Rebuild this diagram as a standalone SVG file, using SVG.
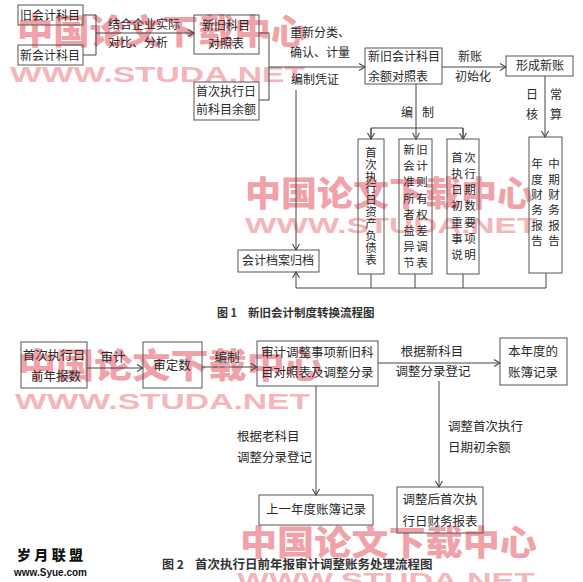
<svg xmlns="http://www.w3.org/2000/svg" width="583" height="582" viewBox="0 0 583 582">
<defs>
<marker id="ah" markerWidth="8" markerHeight="8" refX="7" refY="4" orient="auto" markerUnits="userSpaceOnUse">
<polyline points="1,0.5 7,4 1,7.5" fill="none" stroke="#444" stroke-width="1.1"/>
</marker>
<style>
.bx{fill:none;stroke:#555;stroke-width:1}
.ln{fill:none;stroke:#444;stroke-width:1}
.ar{fill:none;stroke:#444;stroke-width:1;marker-end:url(#ah)}
.t{font-family:"Noto Sans CJK SC","Liberation Sans",sans-serif;font-size:12px;fill:#2a2a2a}
.t2{font-family:"Noto Sans CJK SC","Liberation Sans",sans-serif;font-size:12.5px;fill:#2a2a2a}
.c{text-anchor:middle}
.v{font-family:"Noto Sans CJK SC","Liberation Sans",sans-serif;font-size:11.5px;fill:#2a2a2a;text-anchor:middle}
.cap{font-family:"Noto Sans CJK SC","Liberation Sans",sans-serif;font-weight:bold;fill:#333}
.wmc{font-family:"Noto Sans CJK SC",sans-serif;font-weight:900;font-size:34px;fill:#f0a2a8}
.wme{font-family:"Liberation Sans",sans-serif;font-weight:bold;font-size:22px;fill:#f4b6ba}
</style>
</defs>
<rect width="583" height="582" fill="#fff"/>

<g id="watermarks">
<text class="wmc" x="17" y="44" textLength="290" lengthAdjust="spacingAndGlyphs">中国论文下载中心</text>
<text class="wme" x="10" y="82" textLength="295" lengthAdjust="spacingAndGlyphs">WWW.STUDA.NET</text>
<text class="wmc" x="245" y="206" textLength="288" lengthAdjust="spacingAndGlyphs">中国论文下载中心</text>
<text class="wme" x="245" y="233" textLength="292" lengthAdjust="spacingAndGlyphs">WWW.STUDA.NET</text>
<text class="wmc" x="18" y="378" textLength="305" lengthAdjust="spacingAndGlyphs">中国论文下载中心</text>
<text class="wme" x="15" y="409" textLength="295" lengthAdjust="spacingAndGlyphs">WWW.STUDA.NET</text>
<text class="wmc" x="240" y="555" textLength="297" lengthAdjust="spacingAndGlyphs">中国论文下载中心</text>
<text class="wme" x="237" y="588" textLength="298" lengthAdjust="spacingAndGlyphs">WWW.STUDA.NET</text>
</g>

<g id="connectors">
<!-- figure 1 -->
<polyline class="ln" points="83,15 96,15 96,55 83,55"/>
<line class="ar" x1="96" y1="33" x2="194" y2="33"/>
<polyline class="ln" points="259,33 269,33 269,100 259,100"/>
<line class="ar" x1="269" y1="67" x2="365" y2="67"/>
<line class="ar" x1="442" y1="67" x2="506" y2="67"/>
<line class="ar" x1="416" y1="84" x2="416" y2="139"/>
<polyline class="ln" points="371,138 371,128 463,128 463,138"/>
<line class="ar" x1="371" y1="128" x2="371" y2="139"/>
<line class="ar" x1="463" y1="128" x2="463" y2="139"/>
<line class="ar" x1="545" y1="76" x2="545" y2="137"/>
<line class="ar" x1="296" y1="90" x2="296" y2="250"/>
<polyline class="ln" points="296,288 546,288 546,273"/>
<line class="ln" x1="371" y1="274" x2="371" y2="288"/>
<line class="ln" x1="415" y1="274" x2="415" y2="288"/>
<line class="ln" x1="463" y1="274" x2="463" y2="288"/>
<line class="ar" x1="296" y1="288" x2="296" y2="272"/>
<!-- figure 2 -->
<line class="ar" x1="87" y1="368" x2="143" y2="368"/>
<line class="ar" x1="202" y1="367" x2="257" y2="367"/>
<line class="ar" x1="378" y1="363" x2="500" y2="363"/>
<line class="ar" x1="316" y1="386" x2="316" y2="495"/>
<line class="ar" x1="439" y1="381" x2="439" y2="487"/>
</g>

<g id="labels">
<text class="t" x="108" y="29">结合企业实际</text>
<text class="t" x="108" y="47">对比、分析</text>
<text class="t" x="290" y="37">重新分类、</text>
<text class="t" x="290" y="57">确认、计量</text>
<text class="t" x="291" y="84">编制凭证</text>
<text class="t c" x="470" y="61">新账</text>
<text class="t c" x="473" y="81">初始化</text>
<text class="t c" x="407" y="117">编</text>
<text class="t c" x="428" y="117">制</text>
<text class="t c" x="532" y="99">日</text>
<text class="t c" x="556" y="99">常</text>
<text class="t c" x="532" y="119">核</text>
<text class="t c" x="556" y="119">算</text>
<text class="t2 c" x="113" y="362">审计</text>
<text class="t2 c" x="227" y="362">编制</text>
<text class="t2 c" x="432" y="356">根据新科目</text>
<text class="t2 c" x="433" y="376">调整分录登记</text>
<text class="t2" x="237" y="441">根据老科目</text>
<text class="t2" x="237" y="462">调整分录登记</text>
<text class="t2" x="448" y="431">调整首次执行</text>
<text class="t2" x="448" y="452">日期初余额</text>
</g>

<g id="n-old">
<rect class="bx" x="18" y="5" width="65" height="20"/>
<text class="t c" x="50" y="19.5">旧会计科目</text>
</g>
<g id="n-new">
<rect class="bx" x="18" y="45" width="65" height="20"/>
<text class="t c" x="50" y="59.5">新会计科目</text>
</g>
<g id="n-map">
<rect class="bx" x="194" y="15" width="65" height="39"/>
<text class="t c" x="226" y="30">新旧科目</text>
<text class="t c" x="226" y="48">对照表</text>
</g>
<g id="n-prebal">
<rect class="bx" x="194" y="82" width="65" height="38"/>
<text class="t c" x="226" y="96">首次执行日</text>
<text class="t c" x="226" y="114">前科目余额</text>
</g>
<g id="n-balmap">
<rect class="bx" x="365" y="48" width="77" height="36"/>
<text class="t" x="368" y="61">新旧会计科目</text>
<text class="t" x="368" y="81">余额对照表</text>
</g>
<g id="n-newbook">
<rect class="bx" x="506" y="56" width="67" height="20"/>
<text class="t c" x="540" y="70">形成新账</text>
</g>
<g id="n-archive">
<rect class="bx" x="238" y="250" width="81" height="22"/>
<text class="t c" x="278" y="265">会计档案归档</text>
</g>
<g id="n-bs">
<rect class="bx" x="358" y="139" width="26" height="135"/>
<text class="v" x="371" y="157">首</text>
<text class="v" x="371" y="169">次</text>
<text class="v" x="371" y="181">执</text>
<text class="v" x="371" y="192">行</text>
<text class="v" x="371" y="204">日</text>
<text class="v" x="371" y="216">资</text>
<text class="v" x="371" y="228">产</text>
<text class="v" x="371" y="240">负</text>
<text class="v" x="371" y="252">债</text>
<text class="v" x="371" y="264">表</text>
</g>
<g id="n-equity">
<rect class="bx" x="399" y="139" width="33" height="135"/>
<text class="v" x="409" y="154">新</text><text class="v" x="422" y="154">旧</text>
<text class="v" x="409" y="170">会</text><text class="v" x="422" y="170">计</text>
<text class="v" x="409" y="186">准</text><text class="v" x="422" y="186">则</text>
<text class="v" x="409" y="203">所</text><text class="v" x="422" y="203">有</text>
<text class="v" x="409" y="219">者</text><text class="v" x="422" y="219">权</text>
<text class="v" x="409" y="235">益</text><text class="v" x="422" y="235">差</text>
<text class="v" x="409" y="251">异</text><text class="v" x="422" y="251">调</text>
<text class="v" x="409" y="267">节</text><text class="v" x="422" y="267">表</text>
</g>
<g id="n-notes">
<rect class="bx" x="447" y="139" width="32" height="135"/>
<text class="v" x="457" y="162">首</text><text class="v" x="470" y="162">次</text>
<text class="v" x="457" y="178">执</text><text class="v" x="470" y="178">行</text>
<text class="v" x="457" y="194">日</text><text class="v" x="470" y="194">期</text>
<text class="v" x="457" y="210">初</text><text class="v" x="470" y="210">数</text>
<text class="v" x="457" y="227">重</text><text class="v" x="470" y="227">要</text>
<text class="v" x="457" y="243">事</text><text class="v" x="470" y="243">项</text>
<text class="v" x="457" y="259">说</text><text class="v" x="470" y="259">明</text>
</g>
<g id="n-reports">
<rect class="bx" x="529" y="137" width="33" height="136"/>
<text class="v" x="537" y="168">年</text><text class="v" x="554" y="168">中</text>
<text class="v" x="537" y="184">度</text><text class="v" x="554" y="184">期</text>
<text class="v" x="537" y="199">财</text><text class="v" x="554" y="199">财</text>
<text class="v" x="537" y="214">务</text><text class="v" x="554" y="214">务</text>
<text class="v" x="537" y="230">报</text><text class="v" x="554" y="230">报</text>
<text class="v" x="537" y="245">告</text><text class="v" x="554" y="245">告</text>
</g>
<text class="cap" x="217" y="317" font-size="11">图 1</text>
<text class="cap" x="248" y="317" font-size="11.5">新旧会计制度转换流程图</text>

<g id="m-prior">
<rect class="bx" x="21" y="342" width="66" height="46"/>
<text class="t2 c" x="54" y="360">首次执行日</text>
<text class="t2 c" x="56" y="381">前年报数</text>
</g>
<g id="m-audited">
<rect class="bx" x="143" y="342" width="59" height="46"/>
<text class="t2 c" x="172" y="370">审定数</text>
</g>
<g id="m-adjmap">
<rect class="bx" x="257" y="341" width="121" height="45"/>
<text class="t2" x="261" y="357">审计调整事项新旧科</text>
<text class="t2" x="261" y="377">目对照表及调整分录</text>
</g>
<g id="m-curbook">
<rect class="bx" x="500" y="338" width="67" height="47"/>
<text class="t2 c" x="533" y="356">本年度的</text>
<text class="t2 c" x="533" y="377">账簿记录</text>
</g>
<g id="m-lastbook">
<rect class="bx" x="259" y="495" width="114" height="30"/>
<text class="t2 c" x="316" y="514">上一年度账簿记录</text>
</g>
<g id="m-adjreport">
<rect class="bx" x="397" y="487" width="86" height="46"/>
<text class="t2 c" x="440" y="504">调整后首次执</text>
<text class="t2 c" x="440" y="526">行日财务报表</text>
</g>
<text class="cap" x="162" y="569" font-size="12">图 2</text>
<text class="cap" x="195" y="569" font-size="12.5">首次执行日前年报审计调整账务处理流程图</text>

<text x="17" y="560" font-family="Noto Sans CJK SC,sans-serif" font-weight="900" font-size="14" fill="#111" textLength="66" lengthAdjust="spacing">岁月联盟</text>
<text x="14" y="576" font-family="Liberation Sans,sans-serif" font-weight="bold" font-size="10" fill="#111" textLength="73" lengthAdjust="spacingAndGlyphs">www.Syue.com</text>
</svg>
